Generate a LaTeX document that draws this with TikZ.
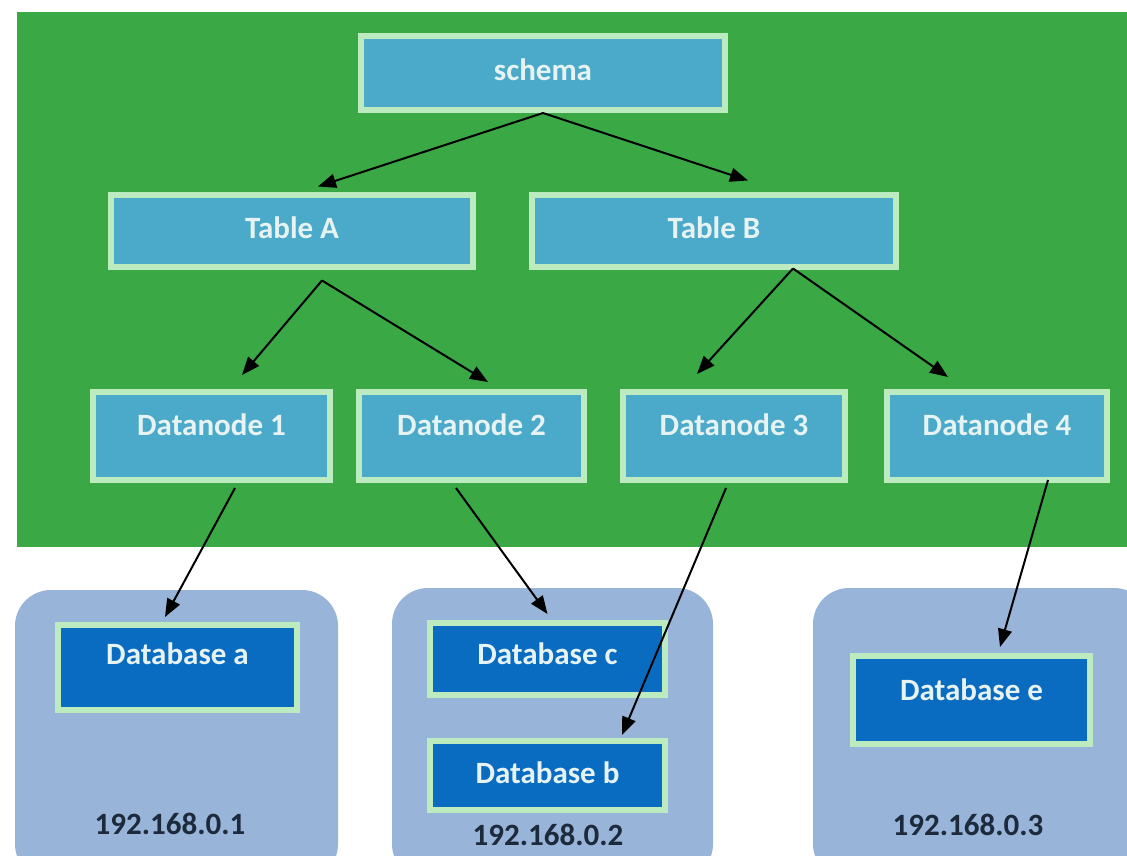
\documentclass[tikz,border=0pt]{standalone}
\usepackage{fontspec}
\setmainfont{Carlito}
\usetikzlibrary{arrows.meta}
\definecolor{bggreen}{HTML}{3AA845}
\definecolor{edgegreen}{HTML}{BDEBC0}
\definecolor{tealbox}{HTML}{4BAACA}
\definecolor{dbblue}{HTML}{0A6CC0}
\definecolor{hostblue}{HTML}{98B4D8}
\definecolor{boxtext}{HTML}{E6F3F2}
\definecolor{iptext}{HTML}{1C2A3C}
\tikzset{
  box/.style={draw=edgegreen, line width=6pt, fill=tealbox, text=boxtext,
    font=\fontsize{31}{37}\selectfont\bfseries, inner sep=0pt,
    text height=22pt, text depth=6pt},
  dbbox/.style={box, fill=dbblue},
  lift/.style={text depth=#1},
  host/.style={fill=hostblue, rounded corners=36pt},
  iplabel/.style={text=iptext, font=\fontsize{31}{37}\selectfont\bfseries, inner sep=0pt},
  link/.style={draw=black, line width=2pt, -{Triangle[length=18pt,width=14pt]}}
}
\begin{document}
\begin{tikzpicture}[x=1pt,y=-1pt]
\useasboundingbox (0,0) rectangle (1127,856);
\clip (0,0) rectangle (1127,856);
\fill[white] (0,0) rectangle (1127,856);
% cluster area
\fill[bggreen] (17,12) rectangle (1127,547);
% hosts
\fill[host] (15,590) rectangle (338,880);
\fill[host] (392,588) rectangle (713,880);
\fill[host] (813,588) rectangle (1150,880);

% schema and tables
\node[box, minimum width=364pt, minimum height=74pt] (sc) at (543,73) {schema};
\node[box, minimum width=362pt, minimum height=72pt] (ta) at (292,230.5) {Table A};
\node[box, minimum width=364pt, minimum height=72pt] (tb) at (714,230.5) {Table B};

% data nodes
\node[box, lift=24pt, minimum width=237pt, minimum height=88pt] (d1) at (211.5,436) {Datanode 1};
\node[box, lift=24pt, minimum width=225pt, minimum height=88pt] (d2) at (471.5,436) {Datanode 2};
\node[box, lift=24pt, minimum width=222pt, minimum height=88pt] (d3) at (734,436) {Datanode 3};
\node[box, lift=24pt, minimum width=220pt, minimum height=88pt] (d4) at (997,436) {Datanode 4};

% databases
\node[dbbox, lift=28pt, minimum width=239pt, minimum height=85pt] (dba) at (177.5,667.5) {Database a};
\node[dbbox, lift=12pt, minimum width=235pt, minimum height=72pt] (dbc) at (547.5,659) {Database c};
\node[dbbox, minimum width=235pt, minimum height=69pt] (dbb) at (547.5,775.5) {Database b};
\node[dbbox, lift=22pt, minimum width=237pt, minimum height=88pt] (dbe) at (971.5,700) {Database e};

% host addresses
\node[iplabel] (ip1) at (170,824) {192.168.0.1};
\node[iplabel] (ip2) at (548,835) {192.168.0.2};
\node[iplabel] (ip3) at (968,825) {192.168.0.3};

% links
\draw[link] (sc.south) -- ([xshift=26pt,yshift=5pt]ta.north);
\draw[link] (sc.south) -- ([xshift=34pt,yshift=11pt]tb.north);
\draw[link] ([xshift=30pt,yshift=-11pt]ta.south) -- ([xshift=30.5pt,yshift=14pt]d1.north);
\draw[link] ([xshift=30pt,yshift=-11pt]ta.south) -- ([xshift=16.5pt,yshift=7pt]d2.north);
\draw[link] ([xshift=79pt,yshift=1pt]tb.south) -- ([xshift=-37pt,yshift=15pt]d3.north);
\draw[link] ([xshift=79pt,yshift=1pt]tb.south) -- ([xshift=-49pt,yshift=12pt]d4.north);
\draw[link] ([xshift=23.5pt,yshift=-5pt]d1.south) -- ([xshift=-12.5pt,yshift=5pt]dba.north);
\draw[link] ([xshift=-15.5pt,yshift=-5pt]d2.south) -- ([yshift=6pt]dbc.north);
\draw[link] ([xshift=-8pt,yshift=-5pt]d3.south) -- ([xshift=74.5pt,yshift=3pt]dbb.north);
\draw[link] ([xshift=51pt,yshift=3pt]d4.south) -- ([xshift=28.5pt,yshift=6pt]dbe.north);
\end{tikzpicture}
\end{document}
